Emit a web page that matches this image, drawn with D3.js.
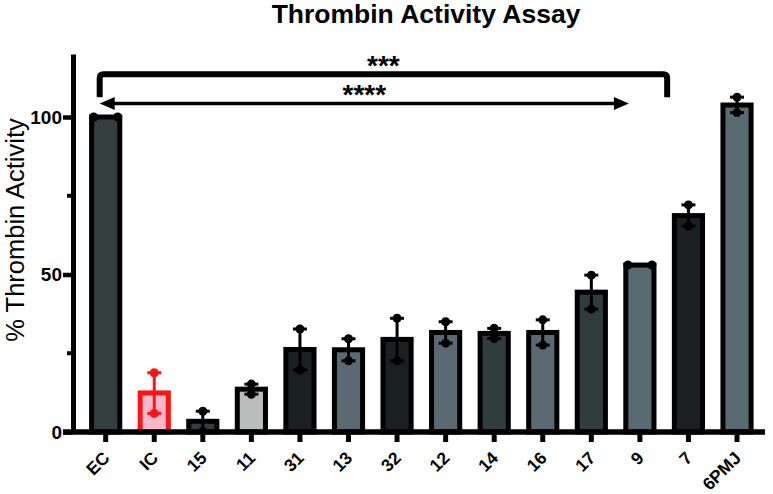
<!DOCTYPE html>
<html>
<head>
<meta charset="utf-8">
<script src="https://cdn.jsdelivr.net/npm/d3@7"></script>
<style>
body { margin: 0; background: #fff; }
text { font-family: "Liberation Sans", Arial, sans-serif; }
</style>
</head>
<body>
<script>
// data
var categories = ["EC", "IC", "15", "11", "31", "13", "32", "12", "14", "16", "17", "9", "7", "6PMJ"];
var means = [100, 12.4, 3.4, 13.6, 26.2, 26.1, 29.4, 31.6, 31.3, 31.6, 44.4, 53.0, 68.7, 103.8];
var rep1 = [100, 18.8, 6.6, 15.2, 32.7, 29.6, 36.1, 35.0, 32.9, 35.6, 49.8, 53.0, 72.1, 106.3];
var rep2 = [100, 5.9, 0.2, 12.0, 19.7, 22.6, 22.6, 28.2, 29.7, 27.6, 39.0, 53.0, 65.4, 101.4];
var yTicks = [0, 50, 100];
var yMinor = [25, 75];

// bar colours
var fills = ["#323f3e", "#f7b9c9", "#323f3e", "#b9bebc", "#1a201f", "#5b6a72", "#1a201f",
             "#5b6a72", "#303d3b", "#5b6a72", "#303d3b", "#586a72", "#1a201f", "#586a72"];

var width = 773, height = 494;

var svg = d3.select("body").append("svg")
    .attr("width", width)
    .attr("height", height);

var x = d3.scaleBand()
    .domain(categories)
    .range([81.4, 761.3])
    .paddingInner(0.42)
    .paddingOuter(0.21);

var y = d3.scaleLinear()
    .domain([0, 120])
    .range([432, 54]);

function cx(c){ return x(c) + x.bandwidth() / 2; }

//title
svg.append("text")
    .attr("x", 426)
    .attr("y", 23)
    .attr("text-anchor", "middle")
    .style("font-size", "26.5px")
    .style("font-weight", "bold")
    .text("Thrombin Activity Assay");

//y label
svg.append("text")
    .attr("transform", "translate(24,230) rotate(-90)")
    .attr("text-anchor", "middle")
    .style("font-size", "25.5px")
    .text("% Thrombin Activity");

//bars
var rows = categories.map(function(c, i){
    return {cat: c, mean: means[i], a: rep1[i], b: rep2[i], fill: fills[i], red: c == "IC"};
});

svg.selectAll(".bar")
    .data(rows)
    .enter()
    .append("rect")
    .attr("class", "bar")
    .attr("x", function(d){ return x(d.cat); })
    .attr("y", function(d){ return y(d.mean); })
    .attr("width", x.bandwidth())
    .attr("height", function(d){ return y(0) - y(d.mean); })
    .style("fill", function(d){ return d.fill; })
    .style("stroke", function(d){ return d.red ? "#ff1414" : "#000"; })
    .style("stroke-width", 5);

//error bars (mean +/- sem, caps land on the replicates)
var err = svg.selectAll(".err")
    .data(rows.filter(function(d){ return d.a != d.b; }))
    .enter()
    .append("g")
    .attr("class", "err")
    .style("stroke", function(d){ return d.red ? "#ff1414" : "#000"; })
    .style("stroke-width", 3);

err.append("line")
    .attr("x1", function(d){ return cx(d.cat); })
    .attr("x2", function(d){ return cx(d.cat); })
    .attr("y1", function(d){ return y(Math.max(d.a, d.b)); })
    .attr("y2", function(d){ return y(Math.min(d.a, d.b)); });

err.selectAll(".cap")
    .data(function(d){ return [d.a, d.b].map(function(v){ return {cat: d.cat, v: v}; }); })
    .enter()
    .append("line")
    .attr("x1", function(d){ return cx(d.cat) - 7; })
    .attr("x2", function(d){ return cx(d.cat) + 7; })
    .attr("y1", function(d){ return y(d.v); })
    .attr("y2", function(d){ return y(d.v); });

//replicate points, spread sideways when they coincide
var pts = [];
rows.forEach(function(d){
    var same = d.a == d.b;
    pts.push({cat: d.cat, v: d.a, dx: same ? -12 : 0, red: d.red});
    pts.push({cat: d.cat, v: d.b, dx: same ? 12 : 0, red: d.red});
});

svg.selectAll(".pt")
    .data(pts)
    .enter()
    .append("circle")
    .attr("class", "pt")
    .attr("cx", function(d){ return cx(d.cat) + d.dx; })
    .attr("cy", function(d){ return y(d.v); })
    .attr("r", 4.5)
    .style("fill", function(d){ return d.red ? "#ff1414" : "#000"; });

//y axis
var yAxis = svg.append("g")
    .attr("class", "yaxis")
    .attr("transform", "translate(73,0)")
    .call(d3.axisLeft(y).tickValues(yTicks).tickSize(10).tickSizeOuter(0).tickPadding(1));

yAxis.select(".domain").style("stroke-width", 5);
yAxis.selectAll(".tick line").style("stroke-width", 4.5);
yAxis.selectAll(".tick text")
    .style("font-size", "19px")
    .style("font-weight", "bold")
    .attr("fill", "#000");

svg.selectAll(".minor")
    .data(yMinor)
    .enter()
    .append("line")
    .attr("class", "minor")
    .attr("x1", 67)
    .attr("x2", 73)
    .attr("y1", function(d){ return y(d); })
    .attr("y2", function(d){ return y(d); })
    .style("stroke", "#000")
    .style("stroke-width", 4);

//x axis
svg.append("line")
    .attr("x1", 63)
    .attr("x2", 765)
    .attr("y1", y(0))
    .attr("y2", y(0))
    .style("stroke", "#000")
    .style("stroke-width", 5.5);

svg.selectAll(".xtick")
    .data(categories)
    .enter()
    .append("line")
    .attr("class", "xtick")
    .attr("x1", cx)
    .attr("x2", cx)
    .attr("y1", y(0))
    .attr("y2", y(0) + 10)
    .style("stroke", "#000")
    .style("stroke-width", 5);

svg.selectAll(".xlab")
    .data(categories)
    .enter()
    .append("text")
    .attr("class", "xlab")
    .attr("transform", function(d){ return "translate(" + (cx(d) + 5) + "," + (y(0) + 27) + ") rotate(-45)"; })
    .attr("text-anchor", "end")
    .style("font-size", "17.5px")
    .style("font-weight", "bold")
    .text(function(d){ return d; });

//significance bracket EC vs 7
var bx1 = cx("EC") - 6,
    bx2 = (cx("9") + cx("7")) / 2 + 3,
    by = y(113.6),
    byLeg = y(106.3);

svg.append("path")
    .attr("d", "M" + bx1 + "," + byLeg + "V" + (by + 4) + "Q" + bx1 + "," + by + " " + (bx1 + 4) + "," + by +
               "H" + (bx2 - 4) + "Q" + bx2 + "," + by + " " + bx2 + "," + (by + 4) + "V" + byLeg)
    .style("fill", "none")
    .style("stroke", "#000")
    .style("stroke-width", 6);

svg.append("text")
    .attr("x", (bx1 + bx2) / 2)
    .attr("y", by + 1)
    .attr("text-anchor", "middle")
    .style("font-size", "28px")
    .style("font-weight", "bold")
    .text("***");

//double arrow EC vs 9
var ax1 = cx("EC") - 6,
    ax2 = cx("9") - 11,
    ay = y(104.3);

svg.append("line")
    .attr("x1", ax1 + 10)
    .attr("x2", ax2 - 10)
    .attr("y1", ay)
    .attr("y2", ay)
    .style("stroke", "#000")
    .style("stroke-width", 3.5);

svg.append("path")
    .attr("d", "M" + ax1 + "," + ay + "L" + (ax1 + 15) + "," + (ay - 6.5) + "L" + (ax1 + 15) + "," + (ay + 6.5) + "Z" +
               "M" + ax2 + "," + ay + "L" + (ax2 - 15) + "," + (ay - 6.5) + "L" + (ax2 - 15) + "," + (ay + 6.5) + "Z")
    .style("fill", "#000");

svg.append("text")
    .attr("x", (ax1 + ax2) / 2)
    .attr("y", ay + 1)
    .attr("text-anchor", "middle")
    .style("font-size", "28px")
    .style("font-weight", "bold")
    .text("****");
</script>
</body>
</html>
